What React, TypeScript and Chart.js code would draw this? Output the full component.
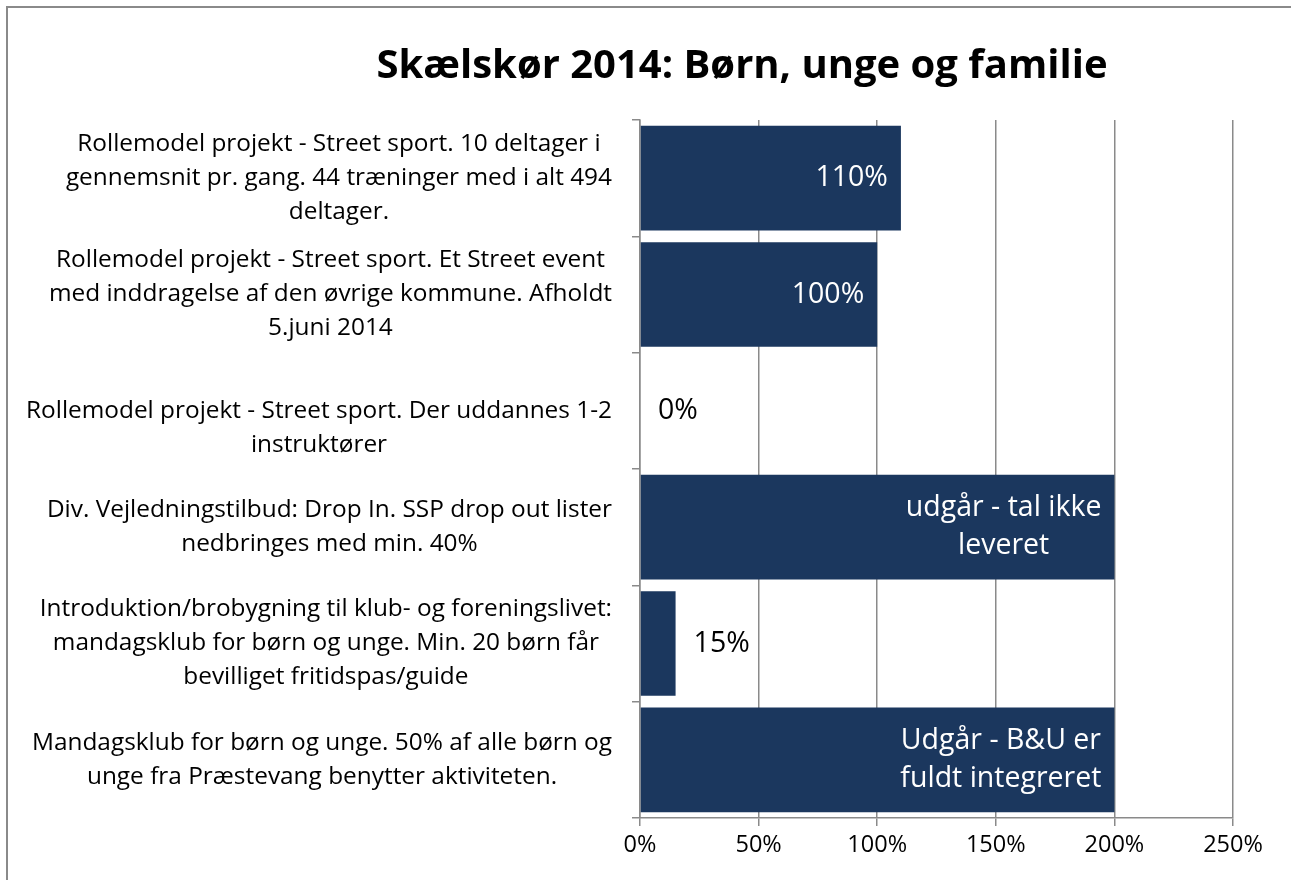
import React, { useEffect, useRef } from "react";
import { Chart, registerables } from "chart.js";

Chart.register(...registerables);

const TITLE = "Skælskør 2014: Børn, unge og familie";

const categories: string[][] = [
  [
    "Rollemodel projekt - Street sport. 10 deltager i",
    "gennemsnit pr. gang. 44 træninger med i alt 494",
    "deltager.",
  ],
  [
    "Rollemodel projekt - Street sport. Et Street event",
    "med inddragelse af den øvrige kommune. Afholdt",
    "5.juni 2014",
  ],
  ["", "Rollemodel projekt - Street sport. Der uddannes 1-2", "instruktører"],
  ["Div. Vejledningstilbud: Drop In. SSP drop out lister", "nedbringes med min. 40%"],
  [
    "Introduktion/brobygning til klub- og foreningslivet:",
    "mandagsklub for børn og unge. Min. 20 børn får",
    "bevilliget fritidspas/guide",
  ],
  ["Mandagsklub for børn og unge. 50% af alle børn og", "unge fra Præstevang benytter aktiviteten."],
];

const values: number[] = [110, 100, 0, 200, 15, 200];

const barLabels: string[][] = [
  ["110%"],
  ["100%"],
  ["0%"],
  ["udgår - tal ikke", "leveret"],
  ["15%"],
  ["Udgår - B&U er", "fuldt integreret"],
];

const xMin = 0;
const xMax = 250;
const xStep = 50;

const FONT = "'Open Sans', sans-serif";
const BAR_COLOR = "#1b375e";
const GRID_COLOR = "#8a8a8a";

const labelPlugin = {
  id: "customLabels",
  afterDraw(chart: any) {
    const ctx = chart.ctx;
    const area = chart.chartArea;
    const yScale = chart.scales.y;
    ctx.save();

    // title
    ctx.font = `bold 40px ${FONT}`;
    ctx.fillStyle = "#000";
    ctx.textAlign = "center";
    ctx.textBaseline = "middle";
    ctx.fillText(TITLE, 742, 67);

    // category labels (block right-aligned, lines centered)
    ctx.font = `24.4px ${FONT}`;
    const lh = 34;
    categories.forEach((lines, i) => {
      const cy = yScale.getPixelForTick(i);
      const maxW = Math.max(...lines.map((l) => ctx.measureText(l).width));
      const right = area.left - 28;
      const cx = right - maxW / 2;
      const startY = cy - ((lines.length - 1) * lh) / 2;
      lines.forEach((l, j) => {
        ctx.textAlign = "center";
        ctx.fillText(l, cx, startY + j * lh);
      });
    });

    // data labels
    const meta = chart.getDatasetMeta(0);
    ctx.font = `28.5px ${FONT}`;
    const dlh = 38;
    meta.data.forEach((bar: any, i: number) => {
      const lines = barLabels[i];
      const maxW = Math.max(...lines.map((l) => ctx.measureText(l).width));
      const barW = bar.x - bar.base;
      const startY = bar.y - ((lines.length - 1) * dlh) / 2;
      let cx: number;
      if (barW > maxW + 24) {
        ctx.fillStyle = "#ffffff";
        cx = bar.x - 13 - maxW / 2;
      } else {
        ctx.fillStyle = "#000000";
        cx = bar.x + 18 + maxW / 2;
      }
      ctx.textAlign = "center";
      lines.forEach((l, j) => ctx.fillText(l, cx, startY + j * dlh));
    });

    ctx.restore();
  },
};

export default function App() {
  const canvasRef = useRef<HTMLCanvasElement | null>(null);

  useEffect(() => {
    if (!canvasRef.current) return;
    const chart = new Chart(canvasRef.current, {
      type: "bar",
      data: {
        labels: categories.map((c) => c.join(" ")),
        datasets: [
          {
            data: values,
            backgroundColor: BAR_COLOR,
            borderWidth: 0,
            barPercentage: 0.9,
            categoryPercentage: 1,
          },
        ],
      },
      options: {
        indexAxis: "y",
        animation: false,
        responsive: false,
        maintainAspectRatio: false,
        layout: { padding: { top: 120, right: 58, bottom: 0, left: 0 } },
        plugins: {
          legend: { display: false },
          title: { display: false },
          tooltip: { enabled: false },
        },
        scales: {
          x: {
            min: xMin,
            max: xMax,
            ticks: {
              stepSize: xStep,
              color: "#000",
              font: { family: FONT, size: 23.5 },
              padding: 5,
              callback: (v: any) => `${v}%`,
            },
            grid: {
              color: GRID_COLOR,
              lineWidth: 1.5,
              drawTicks: true,
              tickLength: 8,
            },
            border: { color: GRID_COLOR, width: 1.5 },
            afterFit: (scale: any) => {
              scale.height = 62;
            },
          },
          y: {
            ticks: { display: false },
            grid: {
              color: GRID_COLOR,
              lineWidth: 1.5,
              drawOnChartArea: false,
              drawTicks: true,
              tickLength: 8,
              offset: true,
            },
            border: { color: GRID_COLOR, width: 1.5 },
            afterFit: (scale: any) => {
              scale.width = 640;
            },
          },
        },
      },
      plugins: [labelPlugin],
    });
    return () => chart.destroy();
  }, []);

  return (
    <div style={{ position: "fixed", left: 0, top: 0, width: 1291, height: 880, background: "#fff" }}>
      <div
        style={{
          position: "absolute",
          left: 6,
          top: 6,
          width: 1300,
          height: 900,
          borderLeft: "2px solid #8a8a8a",
          borderTop: "2px solid #8a8a8a",
        }}
      />
      <canvas
        ref={canvasRef}
        width={1291}
        height={880}
        style={{ position: "absolute", left: 0, top: 0, width: 1291, height: 880 }}
      />
    </div>
  );
}
